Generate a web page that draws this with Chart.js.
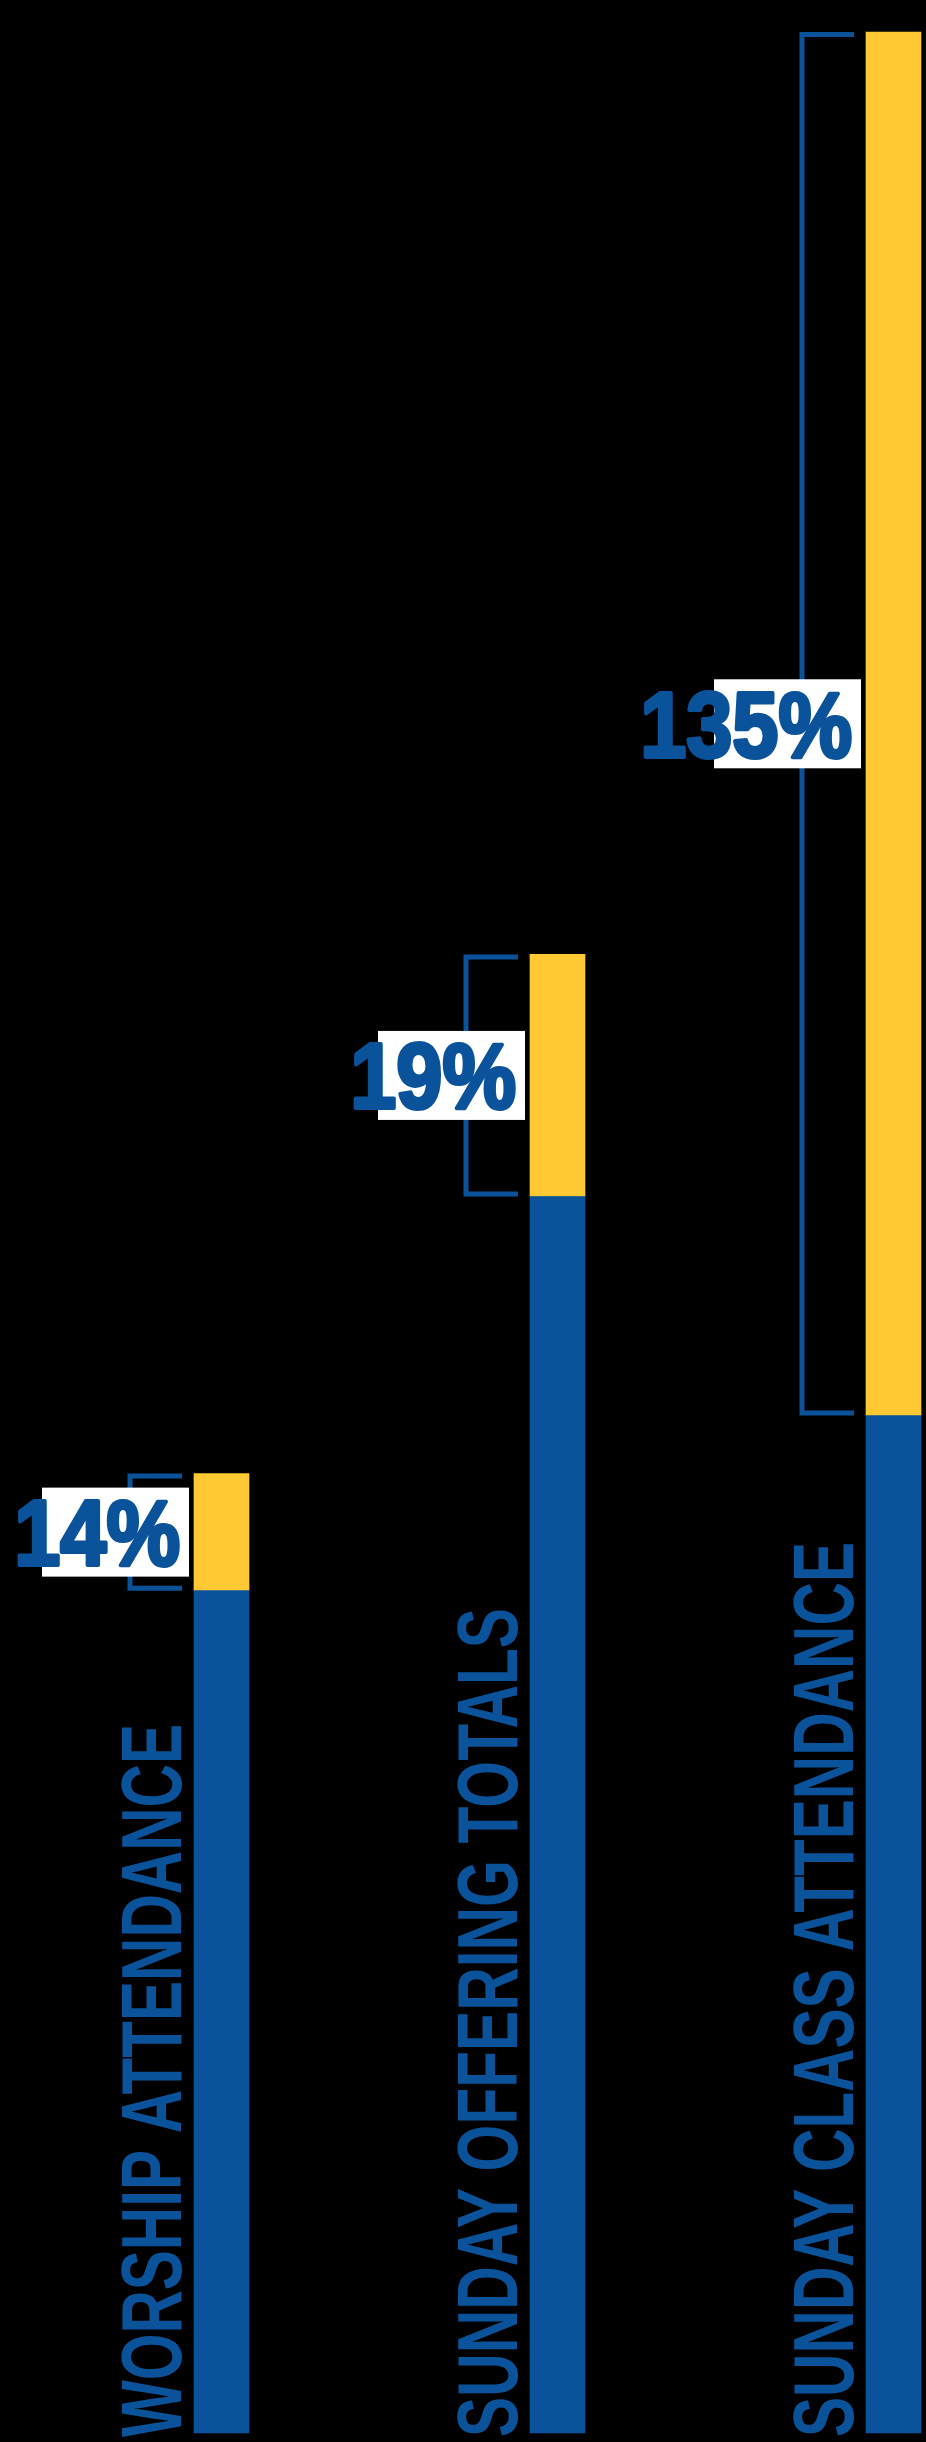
<!DOCTYPE html>
<html>
<head>
<meta charset="utf-8">
<script src="https://cdn.jsdelivr.net/npm/chart.js@4"></script>
<style>
  html, body { margin: 0; padding: 0; background: #000; }
  #growthChart { display: block; }
</style>
</head>
<body>
<canvas id="growthChart" width="926" height="2442"></canvas>

<script>
    // data (arbitrary index units)
    const categories = ['WORSHIP ATTENDANCE', 'SUNDAY OFFERING TOTALS', 'SUNDAY CLASS ATTENDANCE'];
    const baseValues = [84.2, 123.6, 101.7];
    const growthValues = [11.7, 24.2, 138.3];
    const growthLabels = ['14%', '19%', '135%'];

    const BLUE = '#0a539b';
    const YELLOW = '#fec933';

    // lengths of the rotated category titles, in px
    const titleLengths = [713, 829, 895];

    const overlay = {
        id: 'overlay',
        afterDatasetsDraw(chart) {
            var ctx = chart.ctx;
            var bars = chart.getDatasetMeta(1).data;
            var bottom = chart.chartArea.bottom;

            bars.forEach(function (bar, i) {
                var left = bar.x - bar.width / 2;
                var top = bar.y;
                var low = bar.base;
                var mid = (top + low) / 2;

                // bracket
                ctx.save();
                ctx.strokeStyle = BLUE;
                ctx.lineWidth = 5;
                ctx.lineJoin = 'miter';
                ctx.beginPath();
                ctx.moveTo(left - 12, top + 2.5);
                ctx.lineTo(left - 64, top + 2.5);
                ctx.lineTo(left - 64, low - 2.5);
                ctx.lineTo(left - 12, low - 2.5);
                ctx.stroke();

                // white label box
                ctx.fillStyle = '#fff';
                ctx.fillRect(left - 152, mid - 44.5, 147, 89);

                // percentage (stroked too, to get the heavy weight)
                ctx.fillStyle = BLUE;
                ctx.strokeStyle = BLUE;
                ctx.lineWidth = 4;
                ctx.lineJoin = 'round';
                ctx.font = 'bold 92px "Liberation Sans", Arial, sans-serif';
                ctx.textAlign = 'right';
                ctx.textBaseline = 'alphabetic';
                ctx.translate(left - 14, mid + 33);
                ctx.scale(0.9, 1);
                ctx.fillText(growthLabels[i], 0, 0);
                ctx.strokeText(growthLabels[i], 0, 0);
                ctx.restore();

                // rotated category title
                ctx.save();
                ctx.fillStyle = BLUE;
                ctx.font = 'bold 85px "Liberation Sans Narrow", "Liberation Sans", sans-serif';
                ctx.textAlign = 'left';
                ctx.textBaseline = 'alphabetic';
                var w = ctx.measureText(categories[i]).width;
                ctx.translate(left - 13, bottom + 4);
                ctx.rotate(-Math.PI / 2);
                ctx.scale(titleLengths[i] / w, 1);
                ctx.fillText(categories[i], 0, 0);
                ctx.restore();
            });
        }
    };

    var chart = new Chart(document.getElementById('growthChart'), {
        type: 'bar',
        data: {
            labels: categories,
            datasets: [
                {
                    label: 'base',
                    data: baseValues,
                    backgroundColor: BLUE,
                    borderWidth: 0,
                    barThickness: 55,
                    clip: false
                },
                {
                    label: 'growth',
                    data: growthValues,
                    backgroundColor: YELLOW,
                    borderWidth: 0,
                    barThickness: 55,
                    clip: false
                }
            ]
        },
        options: {
            responsive: false,
            animation: false,
            devicePixelRatio: 1,
            layout: {
                padding: { left: 221.5, right: 32.5, top: 32, bottom: 9 }
            },
            plugins: {
                legend: { display: false },
                tooltip: { enabled: false }
            },
            scales: {
                x: { stacked: true, display: false, offset: false },
                y: { stacked: true, display: false, min: 0, max: 240 }
            }
        },
        plugins: [overlay]
    });
</script>
</body>
</html>
